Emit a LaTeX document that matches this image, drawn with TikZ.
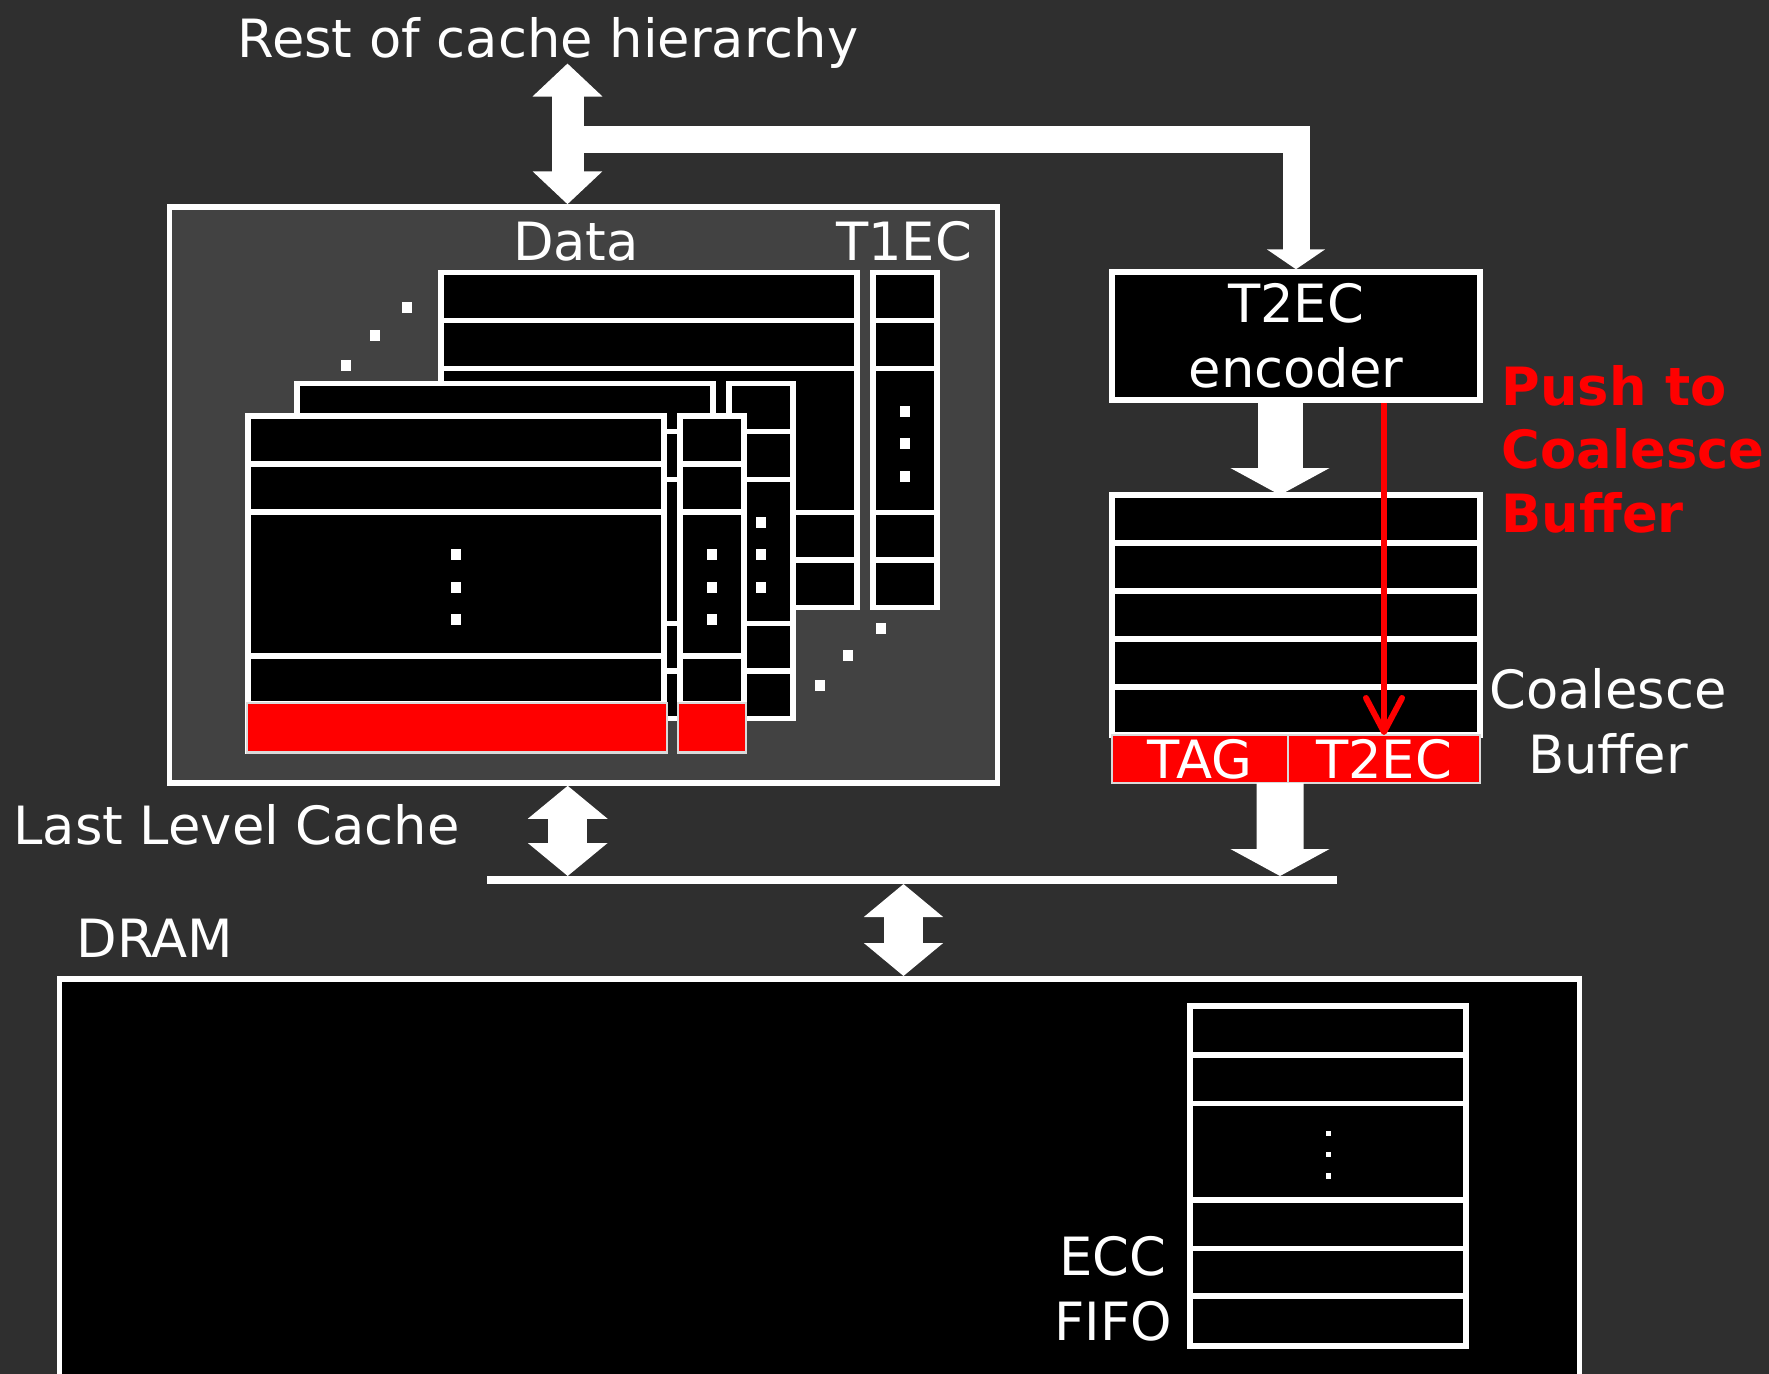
\documentclass[tikz,border=0pt]{standalone}
\usepackage{fontspec}
\setmainfont{DejaVu Sans}
\usepackage{xcolor}
\usepackage{tikz}
\usetikzlibrary{
arrows.meta,
positioning,
calc
}
\definecolor{llcbg}{HTML}{2F2F2F}
\definecolor{llcgray}{HTML}{424242}
\definecolor{llcred}{HTML}{FF0000}

\begin{document}
\begin{tikzpicture}[
  x=1mm, y=-1mm,
  every node/.style={font=\fontsize{15}{18.5}\selectfont, text=white},
  rowcell/.style={draw=white, fill=black, line width=0.55mm},
  redcell/.style={draw=white!85!black, fill=llcred, line width=0.25mm},
  dotsq/.style={fill=white},
  label/.style={inner sep=0pt},
  twoway/.style 2 args={white, line width=#1,
    {Triangle[width=#2,length=3.3mm]}-{Triangle[width=#2,length=3.3mm]}},
  oneway/.style 2 args={white, line width=#1,
    -{Triangle[width=#2,length=2.7mm]}},
  busline/.style={white, line width=0.8mm},
  pusharrow/.style={llcred, line width=0.6mm,
    -{Straight Barb[length=3.4mm,width=3.6mm,round]}}
]

%% ── CANVAS ──────────────────────────────────────────────────────
\useasboundingbox (0,0) rectangle (176.9,137.4);
\clip (0,0) rectangle (176.9,137.4);
\fill[llcbg] (0,0) rectangle (176.9,137.4);

%% ── LAST LEVEL CACHE ────────────────────────────────────────────
\node[draw=white, fill=llcgray, line width=0.55mm, inner sep=0,
      minimum width=82.8mm, minimum height=57.6mm] (llc) at (58.33,49.5) {};
\node[label, anchor=base] (data) at (57.6,26.08) {Data};
\node[label, anchor=base] (t1ec) at (90.4,26.08) {T1EC};

%% three ways: back, middle, front (data rows + T1EC column)
\foreach \ox/\oy in {44.1/27.23, 29.7/38.33, 24.8/41.58}{
  \begin{scope}[shift={(\ox,\oy)}]
    \foreach \ry/\rh in {0/4.8, 4.8/4.8, 9.6/14.4, 24/4.75, 28.75/4.75}{
      \draw[rowcell] (0,\ry) rectangle ++(41.6,\rh);
      \draw[rowcell] (43.2,\ry) rectangle ++(6.4,\rh);
    }
    \foreach \dy in {-3.25,0,3.25}{
      \fill[dotsq] (20.3,16.6+\dy) rectangle ++(1.0,1.1);
      \fill[dotsq] (45.9,16.6+\dy) rectangle ++(1.0,1.1);
    }
  \end{scope}
}
%% red last row of the front way
\draw[redcell] (24.7,70.3) rectangle (66.7,75.26);
\draw[redcell] (67.8,70.3) rectangle (74.6,75.26);

%% dots between the ways
\foreach \px/\py in {40.67/30.79, 37.49/33.54, 34.64/36.53,
                     88.07/62.82, 84.83/65.5, 82.03/68.56}{
  \fill[dotsq] (\px-0.5,\py-0.55) rectangle ++(1.0,1.1);
}
\node[label, anchor=base west] (llclabel) at (1.27,84.42) {Last Level Cache};

%% ── T2EC ENCODER + COALESCE BUFFER ──────────────────────────────
\node[rowcell, minimum width=36.8mm, minimum height=12.8mm, inner sep=0,
      align=center] (enc) at (129.6,33.6) {T2EC\\encoder};

\node[minimum width=36.8mm, minimum height=28.8mm, inner sep=0,
      outer sep=0] (cb) at (129.6,63.9) {};
\foreach \ry in {49.5,54.3,59.1,63.9,68.7}{
  \draw[rowcell] (111.2,\ry) rectangle ++(36.8,4.8);
}
\node[redcell, minimum width=17.6mm, minimum height=4.8mm, inner sep=0,
      outer sep=0, anchor=north west] (tag) at (111.2,73.5) {TAG};
\node[redcell, minimum width=19.2mm, minimum height=4.8mm, inner sep=0,
      outer sep=0, anchor=north west] (t2ec) at (tag.north east) {T2EC};

\node[label, anchor=base, align=center] (cblabel) at (160.8,77.32)
  {Coalesce\\Buffer};
\node[label, anchor=base west, align=left, text=llcred,
      font=\fontsize{15}{18}\selectfont\bfseries] (push) at (150.1,53.2)
  {Push to\\Coalesce\\Buffer};

%% ── DRAM ────────────────────────────────────────────────────────
\node[rowcell, minimum width=152mm, minimum height=60mm, inner sep=0,
      anchor=north west] (dram) at (5.65,97.6) {};
\node[label, anchor=base west] (dramlabel) at (7.6,95.77) {DRAM};

\foreach \ry/\rh in {100.6/4.9, 105.5/4.83, 110.33/9.67,
                     120/4.83, 124.83/4.77, 129.6/5.0}{
  \draw[rowcell] (119.0,\ry) rectangle ++(27.6,\rh);
}
\foreach \py in {113.33,115.45,117.6}{
  \fill[dotsq] (132.55,\py-0.28) rectangle ++(0.56,0.56);
}
\node[label, anchor=base, align=center] (ecclabel) at (111.3,134.07)
  {ECC\\FIFO};

%% ── CONNECTORS ──────────────────────────────────────────────────
\node[label, anchor=base] (rest) at (54.8,5.7) {Rest of cache hierarchy};
\coordinate (up) at (56.75,6.35);
\coordinate (split) at (56.75,13.98);
\coordinate (busL) at (48.73,88.0);
\coordinate (busR) at (133.7,88.0);
\coordinate (busllc) at (56.77,87.6);
\coordinate (buscb) at (128.0,87.6);
\coordinate (busdram) at (90.35,88.4);

\draw[white, line width=2.7mm, -{Triangle[width=5.75mm,length=2.0mm]}]
  (split) -| (enc.north);
\draw[twoway={3.2mm}{6.8mm}] (up) -- (up |- llc.north);
\draw[oneway={4.5mm}{9.8mm}] ([xshift=-1.6mm]enc.south)
  -- ([xshift=-1.6mm]cb.north);
\draw[pusharrow] (enc.south -| t2ec.north) -- (t2ec.north);

\draw[busline] (busL) -- (busR);
\draw[twoway={3.9mm}{7.8mm}] (busllc |- llc.south) -- (busllc);
\draw[oneway={4.7mm}{9.8mm}] ([xshift=-1.6mm]cb.south) -- (buscb);
\draw[twoway={3.86mm}{7.75mm}] (busdram) -- (busdram |- dram.north);

\end{tikzpicture}
\end{document}
